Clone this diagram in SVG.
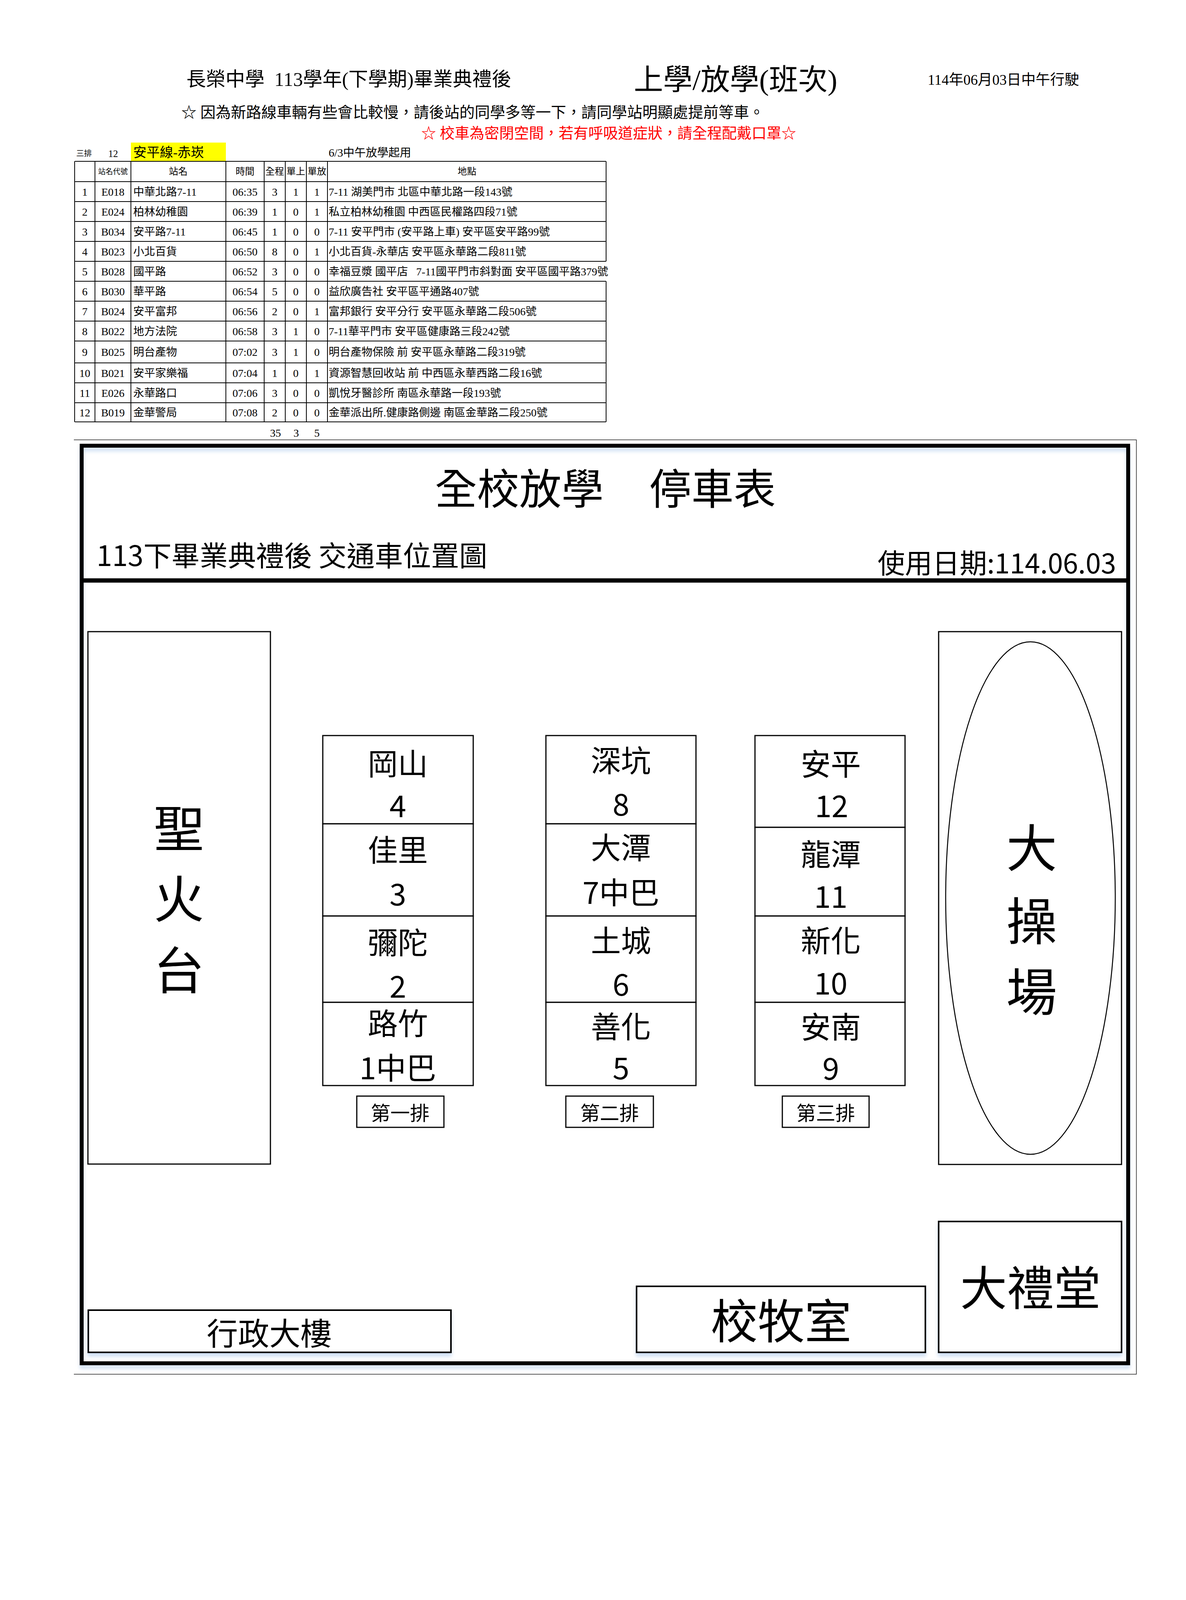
<svg xmlns="http://www.w3.org/2000/svg" width="3035" height="4299" viewBox="0 0 3035 4299">
<defs>
<style>
.ser{font-family:"Liberation Serif","Noto Sans CJK TC",serif;fill:#000}
.sans{font-family:"Noto Sans CJK TC","Noto Sans",sans-serif;fill:#000}
.c{text-anchor:middle;dominant-baseline:central}
.l{text-anchor:start;dominant-baseline:central}
.r{text-anchor:end;dominant-baseline:central}
.tl{stroke:#000;stroke-width:2;fill:none}
.td{font-size:28px}
.th{font-size:24px}
.box{fill:#fff;stroke:#000;stroke-width:3}
.bbox{fill:#fff;stroke:#000;stroke-width:4}
.cell{font-size:77px}
.lab{font-size:50px}
</style>
<filter id="sh" x="-5%" y="-5%" width="110%" height="130%">
<feDropShadow dx="0" dy="9" stdDeviation="5" flood-color="#a9c6ea" flood-opacity="0.55"/>
</filter>
</defs>
<rect width="3035" height="4299" fill="#fff"/>

<g id="header">
<text class="ser l" x="477" y="203" font-size="50" xml:space="preserve">長榮中學  113學年(下學期)畢業典禮後</text>
<text class="ser l" x="1622" y="204" font-size="75">上學/放學(班次)</text>
<text class="ser l" x="2374" y="204" font-size="37">114年06月03日中午行駛</text>
<text class="ser l" x="464" y="287" font-size="39">☆ 因為新路線車輛有些會比較慢，請後站的同學多等一下，請同學站明顯處提前等車。</text>
<text class="ser l" x="1078" y="341" font-size="38" style="fill:#ff0000">☆ 校車為密閉空間，若有呼吸道症狀，請全程配戴口罩☆</text>
<text class="ser l" x="195" y="393" font-size="20">三排</text>
<text class="ser l" x="277" y="393" font-size="25">12</text>
<rect x="335" y="365" width="243" height="48" fill="#ffff00"/>
<text class="ser l" x="341" y="390" font-size="34">安平線-赤崁</text>
<text class="ser l" x="841" y="391" font-size="29">6/3中午放學起用</text>
</g>

<g id="table">
<path class="tl" d="M191,413H1551 M191,465H1551 M191,516H1551 M191,567H1551 M191,618H1551 M191,669H1551 M191,720H1551 M191,771H1551 M191,822H1551 M191,873H1551 M191,929H1551 M191,980H1551 M191,1031H1551 M191,1080H1551"/>
<path class="tl" d="M191,413V1080 M243,413V1080 M335,413V1080 M578,413V1080 M676,413V1080 M730,413V1080 M784,413V1080 M838,413V1080 M1551,413V669 M1551,720V1080"/>
<g class="ser th">
<text class="c" x="289" y="439" font-size="19">站名代號</text>
<text class="c" x="456" y="439">站名</text>
<text class="c" x="627" y="439">時間</text>
<text class="c" x="703" y="439">全程</text>
<text class="c" x="757" y="439">單上</text>
<text class="c" x="811" y="439">單放</text>
<text class="c" x="1195" y="439">地點</text>
</g>
<g class="ser td">
<text class="c" x="217" y="491">1</text><text class="c" x="289" y="491">E018</text><text class="l" x="341" y="491">中華北路7-11</text><text class="c" x="627" y="491">06:35</text><text class="c" x="703" y="491">3</text><text class="c" x="757" y="491">1</text><text class="c" x="811" y="491">1</text><text class="l" x="841" y="491">7-11 湖美門市 北區中華北路一段143號</text>
<text class="c" x="217" y="542">2</text><text class="c" x="289" y="542">E024</text><text class="l" x="341" y="542">柏林幼稚園</text><text class="c" x="627" y="542">06:39</text><text class="c" x="703" y="542">1</text><text class="c" x="757" y="542">0</text><text class="c" x="811" y="542">1</text><text class="l" x="841" y="542">私立柏林幼稚園 中西區民權路四段71號</text>
<text class="c" x="217" y="593">3</text><text class="c" x="289" y="593">B034</text><text class="l" x="341" y="593">安平路7-11</text><text class="c" x="627" y="593">06:45</text><text class="c" x="703" y="593">1</text><text class="c" x="757" y="593">0</text><text class="c" x="811" y="593">0</text><text class="l" x="841" y="593">7-11 安平門市 (安平路上車) 安平區安平路99號</text>
<text class="c" x="217" y="644">4</text><text class="c" x="289" y="644">B023</text><text class="l" x="341" y="644">小北百貨</text><text class="c" x="627" y="644">06:50</text><text class="c" x="703" y="644">8</text><text class="c" x="757" y="644">0</text><text class="c" x="811" y="644">1</text><text class="l" x="841" y="644">小北百貨-永華店 安平區永華路二段811號</text>
<text class="c" x="217" y="695">5</text><text class="c" x="289" y="695">B028</text><text class="l" x="341" y="695">國平路</text><text class="c" x="627" y="695">06:52</text><text class="c" x="703" y="695">3</text><text class="c" x="757" y="695">0</text><text class="c" x="811" y="695">0</text><text class="l" x="841" y="695" xml:space="preserve">幸福豆漿 國平店   7-11國平門市斜對面 安平區國平路379號</text>
<text class="c" x="217" y="746">6</text><text class="c" x="289" y="746">B030</text><text class="l" x="341" y="746">華平路</text><text class="c" x="627" y="746">06:54</text><text class="c" x="703" y="746">5</text><text class="c" x="757" y="746">0</text><text class="c" x="811" y="746">0</text><text class="l" x="841" y="746">益欣廣告社 安平區平通路407號</text>
<text class="c" x="217" y="797">7</text><text class="c" x="289" y="797">B024</text><text class="l" x="341" y="797">安平富邦</text><text class="c" x="627" y="797">06:56</text><text class="c" x="703" y="797">2</text><text class="c" x="757" y="797">0</text><text class="c" x="811" y="797">1</text><text class="l" x="841" y="797">富邦銀行 安平分行 安平區永華路二段506號</text>
<text class="c" x="217" y="848">8</text><text class="c" x="289" y="848">B022</text><text class="l" x="341" y="848">地方法院</text><text class="c" x="627" y="848">06:58</text><text class="c" x="703" y="848">3</text><text class="c" x="757" y="848">1</text><text class="c" x="811" y="848">0</text><text class="l" x="841" y="848">7-11華平門市 安平區健康路三段242號</text>
<text class="c" x="217" y="901">9</text><text class="c" x="289" y="901">B025</text><text class="l" x="341" y="901">明台產物</text><text class="c" x="627" y="901">07:02</text><text class="c" x="703" y="901">3</text><text class="c" x="757" y="901">1</text><text class="c" x="811" y="901">0</text><text class="l" x="841" y="901">明台產物保險 前 安平區永華路二段319號</text>
<text class="c" x="217" y="955">10</text><text class="c" x="289" y="955">B021</text><text class="l" x="341" y="955">安平家樂福</text><text class="c" x="627" y="955">07:04</text><text class="c" x="703" y="955">1</text><text class="c" x="757" y="955">0</text><text class="c" x="811" y="955">1</text><text class="l" x="841" y="955">資源智慧回收站 前 中西區永華西路二段16號</text>
<text class="c" x="217" y="1006">11</text><text class="c" x="289" y="1006">E026</text><text class="l" x="341" y="1006">永華路口</text><text class="c" x="627" y="1006">07:06</text><text class="c" x="703" y="1006">3</text><text class="c" x="757" y="1006">0</text><text class="c" x="811" y="1006">0</text><text class="l" x="841" y="1006">凱悅牙醫診所 南區永華路一段193號</text>
<text class="c" x="217" y="1056">12</text><text class="c" x="289" y="1056">B019</text><text class="l" x="341" y="1056">金華警局</text><text class="c" x="627" y="1056">07:08</text><text class="c" x="703" y="1056">2</text><text class="c" x="757" y="1056">0</text><text class="c" x="811" y="1056">0</text><text class="l" x="841" y="1056">金華派出所.健康路側邊 南區金華路二段250號</text>
<text class="c" x="705" y="1108">35</text><text class="c" x="758" y="1108">3</text><text class="c" x="811" y="1108">5</text>
</g>
</g>

<g id="frame">
<path d="M189,1126H2908V3518H189" fill="none" stroke="#222" stroke-width="1.5"/>
<rect x="209" y="1141" width="2678" height="2349" fill="none" stroke="#000" stroke-width="10" filter="url(#sh)"/>
<line x1="209" y1="1486" x2="2887" y2="1486" stroke="#000" stroke-width="11"/>
<text class="sans c" x="1549" y="1244" font-size="108" word-spacing="34" xml:space="preserve">全校放學  停車表</text>
<text class="sans l" x="247" y="1417" font-size="72">113下畢業典禮後 交通車位置圖</text>
<text class="sans r" x="2856" y="1437" font-size="70">使用日期:114.06.03</text>
</g>

<g id="torch">
<rect class="box" x="225" y="1617" width="467" height="1363"/>
<text class="sans c" x="458" y="2112" font-size="130">聖</text>
<text class="sans c" x="458" y="2292" font-size="130">火</text>
<text class="sans c" x="458" y="2475" font-size="130">台</text>
</g>

<g id="row1">
<g id="r1-gangshan"><rect class="box" x="826" y="1883" width="385" height="226"/><text class="sans c cell" x="1018" y="1950">岡山</text><text class="sans c cell" x="1018" y="2058">4</text></g>
<g id="r1-jiali"><rect class="box" x="826" y="2109" width="385" height="236"/><text class="sans c cell" x="1018" y="2171">佳里</text><text class="sans c cell" x="1018" y="2284">3</text></g>
<g id="r1-mituo"><rect class="box" x="826" y="2345" width="385" height="221"/><text class="sans c cell" x="1018" y="2408">彌陀</text><text class="sans c cell" x="1018" y="2520">2</text></g>
<g id="r1-luzhu"><rect class="box" x="826" y="2566" width="385" height="213"/><text class="sans c cell" x="1018" y="2615">路竹</text><text class="sans c cell" x="1018" y="2729">1中巴</text></g>
<g id="r1-label"><rect class="box" x="913" y="2806" width="223" height="80"/><text class="sans c lab" x="1024" y="2846">第一排</text></g>
</g>

<g id="row2">
<g id="r2-shenkeng"><rect class="box" x="1397" y="1883" width="384" height="226"/><text class="sans c cell" x="1589" y="1942">深坑</text><text class="sans c cell" x="1589" y="2054">8</text></g>
<g id="r2-datan"><rect class="box" x="1397" y="2109" width="384" height="236"/><text class="sans c cell" x="1589" y="2165">大潭</text><text class="sans c cell" x="1589" y="2280">7中巴</text></g>
<g id="r2-tucheng"><rect class="box" x="1397" y="2345" width="384" height="221"/><text class="sans c cell" x="1589" y="2403">土城</text><text class="sans c cell" x="1589" y="2515">6</text></g>
<g id="r2-shanhua"><rect class="box" x="1397" y="2566" width="384" height="213"/><text class="sans c cell" x="1589" y="2623">善化</text><text class="sans c cell" x="1589" y="2729">5</text></g>
<g id="r2-label"><rect class="box" x="1448" y="2806" width="224" height="80"/><text class="sans c lab" x="1560" y="2846">第二排</text></g>
</g>

<g id="row3">
<g id="r3-anping"><rect class="box" x="1932" y="1883" width="384" height="235"/><text class="sans c cell" x="2126" y="1951">安平</text><text class="sans c cell" x="2128" y="2058">12</text></g>
<g id="r3-longtan"><rect class="box" x="1932" y="2118" width="384" height="227"/><text class="sans c cell" x="2126" y="2182">龍潭</text><text class="sans c cell" x="2126" y="2290">11</text></g>
<g id="r3-xinhua"><rect class="box" x="1932" y="2345" width="384" height="221"/><text class="sans c cell" x="2126" y="2403">新化</text><text class="sans c cell" x="2126" y="2512">10</text></g>
<g id="r3-annan"><rect class="box" x="1932" y="2566" width="384" height="213"/><text class="sans c cell" x="2126" y="2624">安南</text><text class="sans c cell" x="2126" y="2730">9</text></g>
<g id="r3-label"><rect class="box" x="2002" y="2806" width="222" height="80"/><text class="sans c lab" x="2113" y="2846">第三排</text></g>
</g>

<g id="field">
<rect class="box" x="2402" y="1617" width="468" height="1364"/>
<ellipse cx="2637" cy="2299" rx="217" ry="656" fill="#fff" stroke="#000" stroke-width="2.5"/>
<text class="sans c" x="2640" y="2162" font-size="130">大</text>
<text class="sans c" x="2640" y="2349" font-size="130">操</text>
<text class="sans c" x="2640" y="2530" font-size="130">場</text>
</g>

<g id="admin">
<rect class="bbox" x="226" y="3354" width="928" height="108" filter="url(#sh)"/>
<text class="sans c" x="689" y="3408" font-size="80">行政大樓</text>
</g>

<g id="chaplain">
<rect class="bbox" x="1629" y="3293" width="739" height="169" filter="url(#sh)"/>
<text class="sans c" x="1999" y="3375" font-size="120">校牧室</text>
</g>

<g id="hall">
<rect class="bbox" x="2402" y="3127" width="468" height="335" filter="url(#sh)"/>
<text class="sans c" x="2637" y="3290" font-size="120">大禮堂</text>
</g>

<g id="connectors"></g>

<text class="ser c" x="1583" y="4230" font-size="17" font-weight="bold" xml:space="preserve">第 2 頁</text>
</svg>
